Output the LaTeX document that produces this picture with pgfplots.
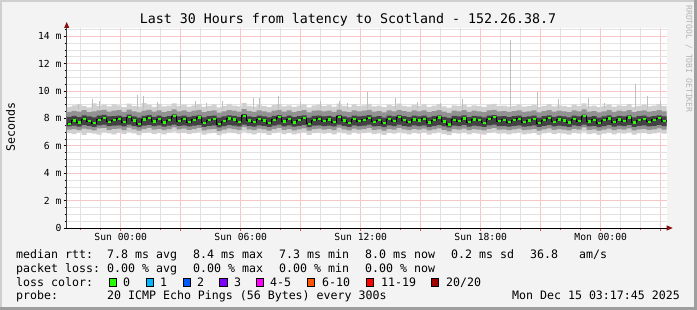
\documentclass[border=0pt]{standalone}
\usepackage{fontspec}
\setmainfont{DejaVu Sans Mono}
\usepackage{xcolor}
\usepackage{pgfplots}
\pgfplotsset{compat=1.18}
\usepackage{pgfplotstable}
\usepgfplotslibrary{fillbetween}
\usetikzlibrary{arrows.meta}

\definecolor{bgc}{HTML}{F3F3F3}
\definecolor{shadeA}{HTML}{CFCFCF}
\definecolor{shadeB}{HTML}{9E9E9E}
\definecolor{majgrid}{HTML}{F7C6C6}
\definecolor{mingrid}{HTML}{E2E2E2}
\definecolor{redtick}{HTML}{E85050}
\definecolor{sA}{HTML}{D0D0D0}
\definecolor{sB}{HTML}{929292}
\definecolor{sC}{HTML}{424242}
\definecolor{medgreen}{HTML}{26FF00}
\definecolor{lc0}{HTML}{26FF00}
\definecolor{lc1}{HTML}{00B8FF}
\definecolor{lc2}{HTML}{0059FF}
\definecolor{lc3}{HTML}{7E00FF}
\definecolor{lc4}{HTML}{FF00FF}
\definecolor{lc6}{HTML}{FF5500}
\definecolor{lc11}{HTML}{FF0000}
\definecolor{lc20}{HTML}{A10000}
\definecolor{arrowred}{HTML}{8B1010}
\definecolor{wm}{HTML}{B4B4B4}
\pagecolor{bgc}

\newcommand\lf{\fontsize{11.6}{13}\selectfont}

\pgfplotstableread{
t mn lo mlo mhi hi mx med
-2.70 6.92 7.18 7.42 8.12 8.48 8.85 7.62
-2.45 6.85 7.22 7.48 8.18 8.55 8.95 7.85
-2.20 6.98 7.15 7.40 8.10 8.50 9.05 7.70
-1.95 6.80 7.25 7.52 8.22 8.60 8.90 7.95
-1.70 6.95 7.20 7.45 8.15 8.45 8.80 7.80
-1.45 6.88 7.12 7.38 8.08 8.52 9.10 7.66
-1.20 6.82 7.28 7.50 8.20 8.58 8.92 7.90
-0.95 7.00 7.30 7.55 8.25 8.62 9.00 8.02
-0.70 6.90 7.16 7.44 8.14 8.50 8.88 7.75
-0.45 6.84 7.24 7.48 8.16 8.56 9.02 7.88
-0.20 6.96 7.26 7.50 8.20 8.60 8.95 7.98
0.05 6.86 7.14 7.42 8.12 8.48 8.82 7.72
0.30 7.02 7.32 7.55 8.28 8.64 9.08 8.10
0.55 6.90 7.20 7.46 8.15 8.52 8.90 7.84
0.80 6.78 7.10 7.36 8.06 8.44 8.86 7.60
1.05 6.94 7.22 7.48 8.18 8.56 9.12 7.92
1.30 6.98 7.30 7.52 8.24 8.62 8.98 8.05
1.55 6.86 7.18 7.44 8.12 8.50 8.84 7.78
1.80 6.92 7.24 7.50 8.20 8.58 9.06 7.95
2.05 6.84 7.14 7.40 8.10 8.46 8.88 7.70
2.30 6.96 7.22 7.48 8.16 8.54 8.94 7.88
2.55 7.04 7.34 7.55 8.30 8.66 9.10 8.15
2.80 6.90 7.20 7.46 8.14 8.52 8.92 7.82
3.05 6.94 7.26 7.50 8.20 8.58 9.00 7.98
3.30 6.86 7.16 7.42 8.12 8.48 8.86 7.74
3.55 6.92 7.22 7.48 8.18 8.56 8.96 7.90
3.80 7.00 7.30 7.52 8.22 8.62 9.04 8.06
4.05 6.82 7.12 7.38 8.08 8.46 8.84 7.68
4.30 6.90 7.20 7.46 8.16 8.54 8.92 7.86
4.55 6.94 7.24 7.50 8.20 8.58 9.02 7.95
4.80 6.78 7.08 7.35 8.05 8.42 8.80 7.58
5.05 6.88 7.18 7.44 8.14 8.52 8.90 7.80
5.30 6.98 7.28 7.52 8.22 8.60 9.06 8.00
5.55 6.92 7.22 7.48 8.18 8.56 8.94 7.92
5.80 6.86 7.16 7.42 8.12 8.50 8.88 7.76
6.05 7.04 7.36 7.55 8.32 8.68 9.14 8.20
6.30 6.90 7.20 7.46 8.15 8.54 8.92 7.85
6.55 6.84 7.14 7.40 8.10 8.48 8.86 7.72
6.80 6.96 7.26 7.50 8.20 8.58 9.00 7.96
7.05 6.90 7.20 7.46 8.14 8.52 8.90 7.84
7.30 6.80 7.10 7.38 8.08 8.44 8.82 7.66
7.55 6.92 7.22 7.48 8.18 8.56 8.98 7.90
7.80 7.00 7.30 7.54 8.24 8.62 9.04 8.08
8.05 6.86 7.16 7.42 8.12 8.50 8.88 7.78
8.30 6.94 7.24 7.50 8.20 8.58 8.96 7.94
8.55 6.84 7.12 7.40 8.10 8.46 8.84 7.70
8.80 6.90 7.20 7.46 8.16 8.54 8.94 7.86
9.05 6.98 7.28 7.52 8.22 8.60 9.02 8.02
9.30 6.80 7.10 7.36 8.06 8.44 8.80 7.62
9.55 6.92 7.22 7.48 8.18 8.56 8.96 7.88
9.80 6.96 7.26 7.50 8.20 8.58 9.00 7.98
10.05 6.88 7.18 7.44 8.14 8.52 8.90 7.80
10.30 6.94 7.24 7.48 8.18 8.56 8.98 7.92
10.55 6.84 7.14 7.42 8.12 8.48 8.86 7.74
10.80 7.02 7.32 7.55 8.26 8.64 9.08 8.12
11.05 6.90 7.20 7.46 8.15 8.52 8.92 7.84
11.30 6.82 7.12 7.38 8.08 8.46 8.84 7.68
11.55 6.96 7.26 7.50 8.20 8.58 9.02 7.96
11.80 6.88 7.18 7.44 8.14 8.52 8.90 7.82
12.05 6.92 7.22 7.48 8.18 8.56 8.96 7.90
12.30 7.00 7.30 7.54 8.24 8.62 9.06 8.04
12.55 6.86 7.16 7.42 8.12 8.50 8.88 7.76
12.80 6.90 7.20 7.46 8.16 8.54 8.94 7.88
13.05 6.80 7.10 7.36 8.06 8.44 8.82 7.64
13.30 6.94 7.24 7.50 8.20 8.58 8.98 7.94
13.55 6.88 7.18 7.44 8.14 8.52 8.90 7.80
13.80 7.00 7.30 7.54 8.24 8.62 9.08 8.10
14.05 6.90 7.20 7.46 8.16 8.54 8.92 7.86
14.30 6.84 7.14 7.40 8.10 8.48 8.86 7.72
14.55 6.94 7.24 7.50 8.20 8.58 8.98 7.92
14.80 6.88 7.18 7.44 8.14 8.52 8.90 7.84
15.05 6.96 7.26 7.50 8.20 8.58 9.02 7.98
15.30 6.82 7.12 7.38 8.08 8.46 8.84 7.70
15.55 6.90 7.20 7.46 8.16 8.54 8.94 7.88
15.80 6.98 7.28 7.52 8.22 8.60 9.04 8.06
16.05 6.86 7.16 7.42 8.12 8.50 8.88 7.78
16.30 6.78 7.06 7.35 8.04 8.40 8.78 7.56
16.55 6.92 7.22 7.48 8.18 8.56 8.96 7.90
16.80 6.88 7.18 7.44 8.14 8.52 8.90 7.82
17.05 6.96 7.26 7.52 8.22 8.60 9.00 8.00
17.30 6.84 7.14 7.40 8.10 8.48 8.86 7.74
17.55 6.92 7.22 7.48 8.18 8.56 8.96 7.92
17.80 6.88 7.18 7.44 8.14 8.52 8.90 7.86
18.05 6.82 7.12 7.38 8.08 8.46 8.84 7.68
18.30 6.94 7.24 7.50 8.20 8.58 9.00 7.96
18.55 7.00 7.30 7.54 8.24 8.62 9.06 8.08
18.80 6.88 7.18 7.44 8.14 8.52 8.90 7.80
19.05 6.90 7.20 7.46 8.16 8.54 8.94 7.90
19.30 6.84 7.14 7.40 8.10 8.48 8.86 7.74
19.55 6.90 7.20 7.46 8.16 8.54 8.92 7.86
19.80 6.96 7.26 7.50 8.20 8.58 9.00 7.98
20.05 6.84 7.14 7.40 8.10 8.48 8.86 7.72
20.30 6.88 7.18 7.44 8.14 8.52 8.90 7.84
20.55 6.94 7.24 7.50 8.20 8.58 8.98 7.94
20.80 6.80 7.10 7.38 8.06 8.44 8.82 7.66
21.05 6.90 7.20 7.46 8.16 8.54 8.92 7.88
21.30 6.98 7.28 7.52 8.22 8.60 9.04 8.02
21.55 6.86 7.16 7.42 8.12 8.50 8.88 7.76
21.80 6.92 7.22 7.48 8.18 8.56 8.96 7.92
22.05 6.88 7.18 7.44 8.14 8.52 8.90 7.84
22.30 6.82 7.12 7.38 8.08 8.46 8.84 7.70
22.55 6.94 7.24 7.50 8.20 8.58 9.00 7.96
22.80 6.88 7.18 7.44 8.14 8.52 8.90 7.82
23.05 7.04 7.34 7.55 8.28 8.66 9.10 8.16
23.30 6.86 7.16 7.42 8.12 8.50 8.88 7.78
23.55 6.90 7.20 7.46 8.16 8.54 8.94 7.90
23.80 6.80 7.10 7.36 8.06 8.44 8.82 7.64
24.05 6.88 7.18 7.44 8.14 8.52 8.92 7.86
24.30 6.96 7.26 7.52 8.22 8.60 9.02 8.00
24.55 6.84 7.14 7.40 8.10 8.48 8.86 7.74
24.80 6.92 7.22 7.48 8.18 8.56 8.96 7.92
25.05 6.88 7.18 7.44 8.14 8.52 8.90 7.80
25.30 6.98 7.28 7.52 8.22 8.60 9.04 8.06
25.55 6.82 7.12 7.38 8.08 8.46 8.84 7.70
25.80 6.90 7.20 7.46 8.16 8.54 8.92 7.88
26.05 6.94 7.24 7.50 8.20 8.58 9.00 7.96
26.30 6.86 7.16 7.42 8.12 8.50 8.88 7.76
26.55 6.90 7.20 7.46 8.16 8.54 8.94 7.90
26.80 6.98 7.28 7.52 8.22 8.60 9.04 8.04
27.05 6.88 7.18 7.44 8.14 8.52 8.90 7.82
27.30 6.92 7.22 7.48 8.18 8.56 8.96 7.90
}\smoke

\begin{document}
\begin{tikzpicture}
\begin{scope}[x=1pt,y=1pt]
% frame (page colour gives the background)
\path (0,0) rectangle (697,310);
\fill[shadeA] (0,308) rectangle (697,310);
\fill[shadeA] (0,0) rectangle (2,310);
\fill[shadeB] (0,0) rectangle (697,3);
\fill[shadeB] (694,0) rectangle (697,310);
\end{scope}

\begin{axis}[
  at={(66.7pt,82pt)}, anchor=south west,
  scale only axis, width=600pt, height=200pt,
  xmin=-2.7, xmax=27.3, ymin=0, ymax=14.6,
  axis background/.style={fill=white},
  axis x line*=bottom, axis y line*=left,
  x axis line style={black, line width=0.8pt, shorten >=-6pt, -{Triangle[length=6pt,width=5pt,color=arrowred]}},
  y axis line style={black!75, line width=0.8pt, shorten >=-6pt, -{Triangle[length=6pt,width=5pt,color=arrowred]}},
  xtick={0,3,...,27},
  xticklabels={Sun 00:00,,Sun 06:00,,Sun 12:00,,Sun 18:00,,Mon 00:00,},
  minor xtick={-2,-1,1,2,4,5,7,8,10,11,13,14,16,17,19,20,22,23,25,26},
  ytick={0,2,...,14},
  yticklabels={0,2 m,4 m,6 m,8 m,10 m,12 m,14 m},
  minor ytick={0.5,1,1.5,2.5,3,3.5,4.5,5,5.5,6.5,7,7.5,8.5,9,9.5,10.5,11,11.5,12.5,13,13.5,14.5},
  grid=both,
  major grid style={solid, color=majgrid, line width=0.8pt},
  minor grid style={solid, color=mingrid, line width=0.8pt},
  tick align=outside,
  major tick length=3pt, minor tick length=2pt,
  xtick style={color=redtick, line width=0.8pt},
  ytick style={color=black, line width=0.8pt},
  minor tick style={color=mingrid!70!black, line width=0.8pt},
  tick label style={font=\fontsize{9.7}{11}\selectfont},
  xticklabel style={inner sep=2pt},
  yticklabel style={inner sep=2pt},
]
\addplot[name path=mn, draw=none, const plot, forget plot] table[x=t,y=mn]{\smoke};
\addplot[name path=mx, draw=none, const plot, forget plot] table[x=t,y=mx]{\smoke};
\addplot[name path=lo, draw=none, const plot, forget plot] table[x=t,y=lo]{\smoke};
\addplot[name path=hi, draw=none, const plot, forget plot] table[x=t,y=hi]{\smoke};
\addplot[name path=mlo, draw=none, const plot, forget plot] table[x=t,y=mlo]{\smoke};
\addplot[name path=mhi, draw=none, const plot, forget plot] table[x=t,y=mhi]{\smoke};
\addplot[fill=sA, draw=none] fill between[of=mn and mx];
\addplot[sA!92!black, line width=1.4pt, unbounded coords=jump] coordinates {
(-2.10,8.7) (-2.10,9.0) (-2.10,nan)
(-1.40,8.7) (-1.40,9.4) (-1.40,nan)
(-1.05,8.7) (-1.05,9.3) (-1.05,nan)
(0.85,8.7) (0.85,9.7) (0.85,nan)
(1.15,8.7) (1.15,9.6) (1.15,nan)
(1.85,8.7) (1.85,9.2) (1.85,nan)
(3.00,8.7) (3.00,12.6) (3.00,nan)
(3.75,8.7) (3.75,9.3) (3.75,nan)
(4.30,8.7) (4.30,9.1) (4.30,nan)
(5.10,8.7) (5.10,9.3) (5.10,nan)
(6.65,8.7) (6.65,9.5) (6.65,nan)
(6.95,8.7) (6.95,9.5) (6.95,nan)
(7.90,8.7) (7.90,9.6) (7.90,nan)
(9.00,8.7) (9.00,9.2) (9.00,nan)
(10.00,8.7) (10.00,9.3) (10.00,nan)
(10.95,8.7) (10.95,9.3) (10.95,nan)
(11.35,8.7) (11.35,9.1) (11.35,nan)
(12.35,8.7) (12.35,9.9) (12.35,nan)
(13.75,8.7) (13.75,9.5) (13.75,nan)
(14.85,8.7) (14.85,9.2) (14.85,nan)
(16.00,8.7) (16.00,9.1) (16.00,nan)
(17.10,8.7) (17.10,9.45) (17.10,nan)
(19.50,8.7) (19.50,13.7) (19.50,nan)
(20.85,8.7) (20.85,9.95) (20.85,nan)
(21.90,8.7) (21.90,9.4) (21.90,nan)
(23.40,8.7) (23.40,9.5) (23.40,nan)
(24.20,8.7) (24.20,9.1) (24.20,nan)
(25.75,8.7) (25.75,10.5) (25.75,nan)
(26.35,8.7) (26.35,9.6) (26.35,nan)
(27.00,8.7) (27.00,9.3) (27.00,nan)
};
\addplot[fill=sB, draw=none] fill between[of=lo and hi];
\addplot[fill=sC, draw=none] fill between[of=mlo and mhi];
\addplot[const plot, black, line width=0.7pt] table[x=t,y=med]{\smoke};
\addplot[only marks, mark=-, mark size=1.7pt, skip coords between index={120}{121},
  mark options={line width=2.2pt, draw=medgreen, xshift=2.5pt}] table[x=t,y=med]{\smoke};
\end{axis}

\begin{scope}[x=1pt,y=1pt]
% title
\node[anchor=base, inner sep=0pt, font=\fontsize{13.3}{15}\selectfont] at (348,286) {Last 30 Hours from latency to Scotland - 152.26.38.7};
% y label
\node[anchor=base, rotate=90, inner sep=0pt, font=\lf] at (15,183) {Seconds};
% watermark
\node[rotate=-90, inner sep=0pt, text=wm, font=\fontsize{8.1}{9}\selectfont] at (689,251) {RRDTOOL / TOBI OETIKER};

\begin{scope}[every node/.style={anchor=base west, inner sep=0pt, font=\lf}]
% row 1
\node at (16,51.5) {median rtt:};
\node at (107,51.5) {7.8 ms avg};
\node at (193,51.5) {8.4 ms max};
\node at (279,51.5) {7.3 ms min};
\node at (365,51.5) {8.0 ms now};
\node at (451,51.5) {0.2 ms sd};
\node at (530,51.5) {36.8};
\node at (579,51.5) {am/s};
% row 2
\node at (16,37.8) {packet loss:};
\node at (107,37.8) {0.00 \% avg};
\node at (193,37.8) {0.00 \% max};
\node at (279,37.8) {0.00 \% min};
\node at (365,37.8) {0.00 \% now};
% row 3
\node at (16,23.8) {loss color:};
\node at (123,23.8) {0};
\node at (160,23.8) {1};
\node at (197,23.8) {2};
\node at (234,23.8) {3};
\node at (270,23.8) {4-5};
\node at (322,23.8) {6-10};
\node at (381,23.8) {11-19};
\node at (446,23.8) {20/20};
% row 4
\node at (16,10.2) {probe:};
\node at (107,10.2) {20 ICMP Echo Pings (56 Bytes) every 300s};
\node[anchor=base east] at (680,10.2) {Mon Dec 15 03:17:45 2025};
\end{scope}
\begin{scope}[line width=0.8pt]
\filldraw[fill=lc0, draw=black] (108.9,23.6) rectangle ++(7.4,8.2);
\filldraw[fill=lc1, draw=black] (145.9,23.6) rectangle ++(7.4,8.2);
\filldraw[fill=lc2, draw=black] (182.9,23.6) rectangle ++(7.4,8.2);
\filldraw[fill=lc3, draw=black] (219.5,23.6) rectangle ++(7.4,8.2);
\filldraw[fill=lc4, draw=black] (256.2,23.6) rectangle ++(7.4,8.2);
\filldraw[fill=lc6, draw=black] (307.2,23.6) rectangle ++(7.4,8.2);
\filldraw[fill=lc11, draw=black] (366.2,23.6) rectangle ++(7.4,8.2);
\filldraw[fill=lc20, draw=black] (431.2,23.6) rectangle ++(7.4,8.2);
\end{scope}
\end{scope}
\end{tikzpicture}
\end{document}
